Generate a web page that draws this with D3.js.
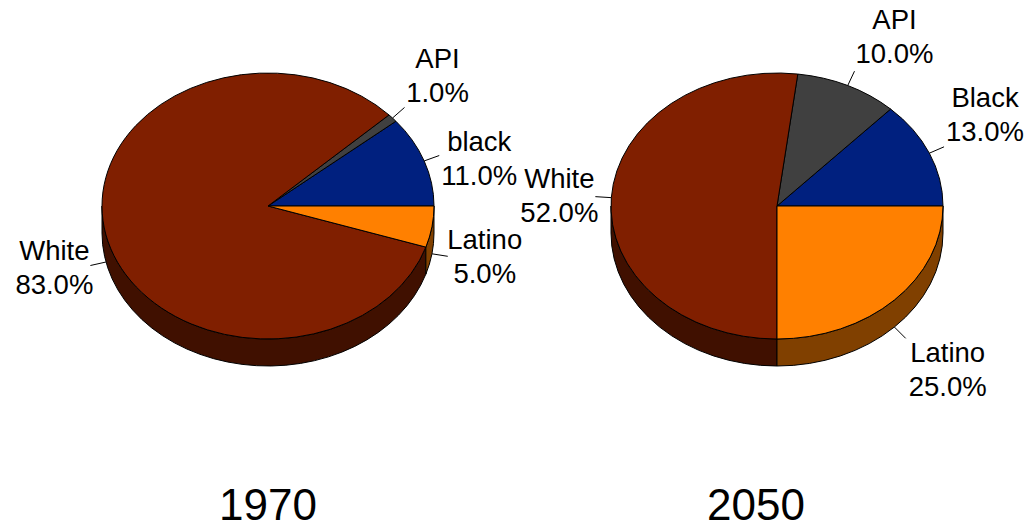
<!DOCTYPE html>
<html><head><meta charset="utf-8">
<script src="https://cdn.jsdelivr.net/npm/d3@7"></script>
<style>html,body{margin:0;padding:0;background:#fff;}</style>
</head><body>
<svg id="chart" width="1036" height="530"></svg>
<script>
// ---- data ----
const years = ["1970", "2050"];
const keys = ["black", "API", "White", "Latino"];
const labels1970 = ["black", "API", "White", "Latino"];
const labels2050 = ["Black", "API", "White", "Latino"];
const values1970 = [11, 1, 83, 5];
const values2050 = [13, 10, 52, 25];

// ---- styling / layout ----
const topColors  = {black: "#00207f", API: "#404040", White: "#801f00", Latino: "#ff8000"};
const sideColors = {black: "#001040", API: "#202020", White: "#401000", Latino: "#804000"};
const centersX = [268, 777];
const titleX = [268, 756];
const cy = 206, rx = 166, ry = 133, depth = 27;
const font = "'Liberation Sans', Arial, sans-serif";
// label block offsets (center x, first baseline) relative to leader end
const nudge1970 = [[40, -5], [33, -39], [-36, -5.5], [37, -7.5]];
const nudge2050 = [[41, -40], [40, -42.5], [-36, -9], [42, 24]];

const svg = d3.select("#chart");
const pies = [
  {year: years[0], labels: labels1970, values: values1970, nudge: nudge1970, cx: centersX[0], tx: titleX[0]},
  {year: years[1], labels: labels2050, values: values2050, nudge: nudge2050, cx: centersX[1], tx: titleX[1]}
];

const pie = d3.pie().sort(null).startAngle(Math.PI / 2).endAngle(Math.PI / 2 - 2 * Math.PI);

pies.forEach(p => {
  const g = svg.append("g");
  const arcs = pie(p.values);
  const pt = (a, dy = 0) => [p.cx + rx * Math.sin(a), cy - ry * Math.cos(a) + dy];
  // sides (visible lower half: a in [-3pi/2, -pi/2])
  arcs.forEach((d, i) => {
    const hi = Math.min(d.startAngle, -Math.PI / 2);
    const lo = Math.max(d.endAngle, -3 * Math.PI / 2);
    if (lo < hi) {
      const p1 = pt(hi), p2 = pt(lo), p3 = pt(lo, depth), p4 = pt(hi, depth);
      const path = `M${p1}A${rx},${ry} 0 0 0 ${p2}L${p3}A${rx},${ry} 0 0 1 ${p4}Z`;
      g.append("path").attr("d", path).attr("fill", sideColors[keys[i]])
        .attr("stroke", "#000").attr("stroke-width", 1).attr("stroke-linejoin", "round");
    }
  });
  // tops
  arcs.forEach((d, i) => {
    const s = pt(d.startAngle), e = pt(d.endAngle);
    const large = (d.startAngle - d.endAngle) > Math.PI ? 1 : 0;
    const path = `M${p.cx},${cy}L${s}A${rx},${ry} 0 ${large} 0 ${e}Z`;
    g.append("path").attr("d", path).attr("fill", topColors[keys[i]])
      .attr("stroke", "#000").attr("stroke-width", 1).attr("stroke-linejoin", "round");
  });
  // labels with leader lines
  arcs.forEach((d, i) => {
    const mid = (d.startAngle + d.endAngle) / 2;
    const lower = Math.cos(mid) < 0;
    const start = pt(mid, lower ? depth : 0);
    const ux = Math.sin(mid), uy = -Math.cos(mid);
    const n = Math.hypot(ux, uy);
    const end = [start[0] + 16 * ux / n, start[1] + 16 * uy / n];
    g.append("line").attr("x1", start[0]).attr("y1", start[1]).attr("x2", end[0]).attr("y2", end[1])
      .attr("stroke", "#000").attr("stroke-width", 1);
    const [dx, dy] = p.nudge[i];
    const t = g.append("text").attr("text-anchor", "middle")
      .attr("font-family", font).attr("font-size", 27.5).attr("fill", "#000");
    t.append("tspan").attr("x", end[0] + dx).attr("y", end[1] + dy).text(p.labels[i]);
    t.append("tspan").attr("x", end[0] + dx).attr("y", end[1] + dy + 34)
      .text(d3.format(".1f")(d.value / d3.sum(p.values) * 100) + "%");
  });
  svg.append("text").attr("x", p.tx).attr("y", 520).attr("text-anchor", "middle")
    .attr("font-family", font).attr("font-size", 44).attr("fill", "#000").text(p.year);
});
</script>
</body></html>
